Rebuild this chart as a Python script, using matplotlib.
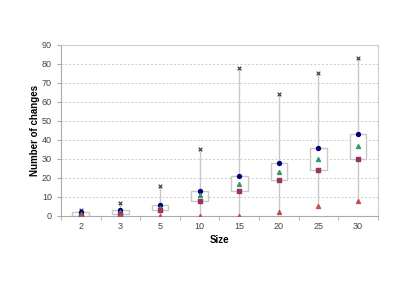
import matplotlib
matplotlib.use('Agg')
import matplotlib.pyplot as plt
import numpy as np

plt.rcParams['font.family'] = ['Liberation Sans', 'DejaVu Sans']

sizes = ['2', '3', '5', '10', '15', '20', '25', '30']
max_vals = [3, 7, 16, 35, 78, 64, 75, 83]
upper_vals = [2, 3, 6, 13, 21, 28, 36, 43]
mean_vals = [1, 2, 4, 11, 17, 23, 30, 37]
lower_vals = [0, 1, 3, 8, 13, 19, 24, 30]
min_vals = [0, 0, 0, 0, 0, 2, 5, 8]

fig = plt.figure(figsize=(4.09, 2.89), dpi=100)
ax = fig.add_axes([0.149, 0.2526, 0.775, 0.5917])

x = np.arange(len(sizes))
box_w = 0.42

# whiskers and boxes
for i in x:
    ax.plot([i, i], [min_vals[i], max_vals[i]], color='#c8c8c8', lw=1.0, zorder=2)
    ax.add_patch(plt.Rectangle((i - box_w / 2, lower_vals[i]), box_w,
                               upper_vals[i] - lower_vals[i],
                               facecolor='white', edgecolor='#c8c8c8', lw=1.0, zorder=3))

ax.scatter(x, max_vals, marker='x', s=7, color='#333333', lw=0.8, zorder=5)
ax.scatter(x, upper_vals, marker='o', s=8, color='#000080', zorder=5)
ax.scatter(x, mean_vals, marker='^', s=8, color='#339966', zorder=5)
ax.scatter(x, lower_vals, marker='s', s=9, color='#993366', zorder=5)
ax.scatter(x, min_vals, marker='^', s=8, color='#c0504d', zorder=5)

ax.set_xlim(-0.5, len(sizes) - 0.5)
ax.set_ylim(0, 90)
ax.set_yticks(range(0, 91, 10))
ax.set_xticks(x)
ax.set_xticklabels(sizes)
ax.set_xticks(np.arange(-0.5, len(sizes), 1), minor=True)
ax.tick_params(axis='x', which='major', length=0, pad=4, labelsize=6.5, labelcolor='#444444')
ax.tick_params(axis='x', which='minor', length=3, color='#aaaaaa')
ax.tick_params(axis='y', length=3, color='#aaaaaa', labelsize=6.5, labelcolor='#444444')

ax.grid(axis='y', linestyle=(0, (2, 2)), color='#cccccc', lw=0.7)
ax.set_axisbelow(True)
for s in ax.spines.values():
    s.set_color('#cccccc')
    s.set_linewidth(0.8)
ax.spines['left'].set_color('#aaaaaa')
ax.spines['bottom'].set_color('#aaaaaa')

ax.set_xlabel('Size', fontsize=7, fontweight='bold', labelpad=3)
ax.set_ylabel('Number of changes', fontsize=7, fontweight='bold')
ax.yaxis.set_label_coords(-0.066, 0.5)

fig.savefig('out.png', dpi=100, facecolor='white')
